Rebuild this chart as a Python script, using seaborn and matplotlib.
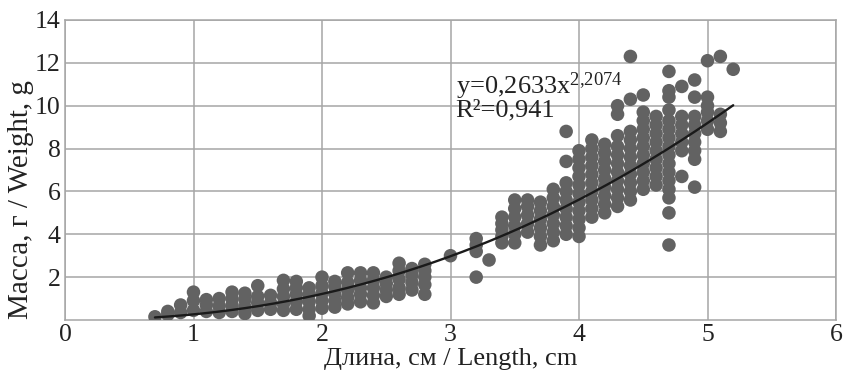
import numpy as np
import pandas as pd
import matplotlib
matplotlib.use("Agg")
import matplotlib.pyplot as plt
import seaborn as sns

# Data: weight values per length column (cm -> g)
length_cols = [0.7, 0.8, 0.9, 1.0, 1.1, 1.2, 1.3, 1.4, 1.5, 1.6, 1.7, 1.8, 1.9,
               2.0, 2.1, 2.2, 2.3, 2.4, 2.5, 2.6, 2.7, 2.8, 3.0, 3.2, 3.3,
               3.4, 3.5, 3.6, 3.7, 3.8, 3.9, 4.0, 4.1, 4.2, 4.3, 4.4, 4.5,
               4.6, 4.7, 4.8, 4.9, 5.0, 5.1, 5.2]
weight_cols = [
    [0.15],
    [0.25, 0.4],
    [0.35, 0.7],
    [0.45, 0.9, 1.3],
    [0.4, 0.7, 0.95],
    [0.35, 0.65, 1.0],
    [0.4, 0.7, 1.0, 1.3],
    [0.3, 0.6, 0.95, 1.25],
    [0.45, 0.8, 1.1, 1.6],
    [0.5, 0.8, 1.15],
    [0.45, 0.75, 1.1, 1.45, 1.85],
    [0.5, 0.85, 1.2, 1.5, 1.8],
    [0.2, 0.5, 0.85, 1.2, 1.5],
    [0.55, 0.9, 1.25, 1.6, 2.0],
    [0.6, 0.9, 1.2, 1.55, 1.8],
    [0.75, 1.05, 1.4, 1.75, 2.2],
    [0.85, 1.2, 1.5, 1.85, 2.2],
    [0.8, 1.15, 1.5, 1.85, 2.2],
    [1.1, 1.4, 1.7, 2.0],
    [1.2, 1.5, 1.9, 2.3, 2.65],
    [1.4, 1.75, 2.1, 2.4],
    [1.2, 1.65, 2.0, 2.3, 2.6],
    [3.0],
    [2.0, 3.2, 3.5, 3.8],
    [2.8],
    [3.6, 3.9, 4.2, 4.5, 4.8],
    [3.6, 4.0, 4.4, 4.8, 5.2, 5.6],
    [4.1, 4.5, 4.9, 5.3, 5.6],
    [3.5, 3.9, 4.3, 4.7, 5.1, 5.5],
    [3.7, 4.1, 4.5, 4.9, 5.3, 5.7, 6.1],
    [4.0, 4.4, 4.8, 5.2, 5.6, 6.0, 6.4, 7.4, 8.8],
    [3.9, 4.3, 4.7, 5.1, 5.5, 5.9, 6.3, 6.7, 7.1, 7.5, 7.9],
    [4.8, 5.2, 5.6, 6.0, 6.4, 6.8, 7.2, 7.6, 8.0, 8.4],
    [5.0, 5.4, 5.8, 6.2, 6.6, 7.0, 7.4, 7.8, 8.2],
    [5.3, 5.7, 6.1, 6.5, 6.9, 7.3, 7.7, 8.1, 8.6, 9.6, 10.0],
    [5.6, 6.0, 6.4, 6.8, 7.2, 7.6, 8.0, 8.4, 8.8, 10.3, 12.3],
    [6.1, 6.5, 6.9, 7.3, 7.7, 8.1, 8.5, 8.9, 9.3, 9.7, 10.5],
    [6.3, 6.7, 7.1, 7.5, 7.9, 8.3, 8.7, 9.1, 9.5],
    [3.5, 5.0, 5.7, 6.1, 6.5, 6.9, 7.3, 7.7, 8.1, 8.5, 8.9, 9.3, 9.8, 10.4, 10.7, 11.6],
    [6.7, 7.9, 8.3, 8.7, 9.1, 9.5, 10.9],
    [6.2, 7.5, 7.9, 8.3, 8.7, 9.1, 9.5, 10.4, 11.2],
    [8.9, 9.3, 9.7, 10.0, 10.4, 12.1],
    [8.8, 9.2, 9.6, 12.3],
    [11.7],
]

# Power trend line parameters (from the chart's equation)
fit_a = 0.2633
fit_b = 2.2074
fit_x_range = [0.7, 5.2]
eq_text = r"y=0,2633x$^{\mathregular{2{,}2074}}$" + "\n" + "R²=0,941"

x_ticks = [0, 1, 2, 3, 4, 5, 6]
y_ticks = [2, 4, 6, 8, 10, 12, 14]
x_label = "Длина, см / Length, cm"
y_label = "Масса, г / Weight, g"

rows = []
for xv, ws in zip(length_cols, weight_cols):
    for w in ws:
        rows.append((xv, w))
df = pd.DataFrame(rows, columns=["length", "weight"])

fx = np.linspace(fit_x_range[0], fit_x_range[1], 200)
fit_df = pd.DataFrame({"length": fx, "weight": fit_a * fx ** fit_b})

sns.set_theme(style="whitegrid")
plt.rcParams['font.family'] = ['Liberation Serif', 'DejaVu Serif']
plt.rcParams['mathtext.fontset'] = 'custom'
plt.rcParams['mathtext.rm'] = 'Liberation Serif'
plt.rcParams['mathtext.default'] = 'regular'

fig = plt.figure(figsize=(8.43, 3.76), dpi=100)
ax = fig.add_axes([65/843, 1 - 320/376, (836 - 65)/843, (320 - 20)/376])

sns.scatterplot(data=df, x="length", y="weight", ax=ax, s=95, color="#626262",
                edgecolor="none", linewidth=0, zorder=3)
sns.lineplot(data=fit_df, x="length", y="weight", ax=ax, color="#1a1a1a",
             linewidth=1.7, zorder=4)

ax.set_xlim(0, 6)
ax.set_ylim(0, 14)
ax.set_xticks(x_ticks)
ax.set_yticks(y_ticks)
ax.set_xticklabels([str(t) for t in x_ticks])
ax.set_yticklabels([str(t) for t in y_ticks])
ax.tick_params(axis="both", length=0, labelsize=18.5, colors="#222222")
ax.tick_params(axis="y", pad=3)
ax.tick_params(axis="x", pad=3)
ax.grid(True, color="#a6a6a6", linewidth=1.1)
ax.set_axisbelow(True)
for sp in ax.spines.values():
    sp.set_color("#a6a6a6")
    sp.set_linewidth(1.1)

ax.set_xlabel(x_label, fontsize=19, color="#222222", labelpad=1)
ax.set_ylabel(y_label, fontsize=21, color="#222222")
ax.yaxis.set_label_coords(-0.040, 0.40)

ax.text(3.04, 10.45, eq_text, fontsize=19, color="#222222", linespacing=0.85,
        va="center", ha="left", zorder=5)

fig.savefig("out.png", dpi=100)
